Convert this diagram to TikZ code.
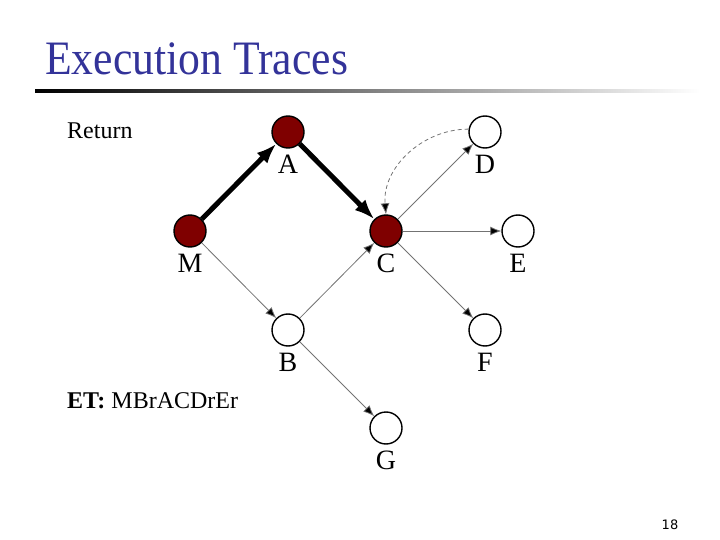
\documentclass[tikz,border=0pt]{standalone}
\usepackage{fontspec}
\setmainfont{Liberation Serif}
\setsansfont{DejaVu Sans}
\usetikzlibrary{arrows.meta}
\definecolor{titleblue}{HTML}{333399}
\definecolor{visited}{HTML}{7F0000}

\begin{document}
\begin{tikzpicture}[x=1pt, y=-1pt,
    state/.style={circle, draw, line width=1.4pt, minimum size=32pt, inner sep=0pt,
                  label={[font=\fontsize{28}{30}\selectfont, inner sep=0pt, label distance=6pt]below:#1}},
    hot/.style={state=#1, fill=visited},
    cold/.style={state=#1, fill=white},
    trace/.style={-{Latex[length=20pt, width=15pt]}, line width=5pt},
    edge/.style={-{Latex[length=11pt, width=9pt, fill=black]}, draw=black!55, line width=0.8pt},
    back/.style={edge, dashed, dash pattern=on 4pt off 3pt}]
    \useasboundingbox (0,0) rectangle (720,540);

    % heading
    \node[anchor=base west, inner sep=0pt, text=titleblue,
          font=\fontsize{48}{52}\selectfont] (title) at (45,75) {\scalebox{0.91}[1]{Execution Traces}};
    \shade[left color=black, right color=white] (35,89.5) rectangle (700,92.5);

    \node[anchor=base west, inner sep=0pt, font=\fontsize{24}{26}\selectfont] (ret) at (67,139) {Return};
    \node[anchor=base west, inner sep=0pt, font=\fontsize{24}{26}\selectfont] (et) at (67,408) {\textbf{ET:} MBrACDrEr};
    \node[anchor=base, inner sep=0pt, font=\sffamily\fontsize{13}{14}\selectfont] (page) at (670,529) {18};

    % call graph
    \node[hot=M] (M) at (190,231) {};
    \node[hot=A] (A) at (288,132) {};
    \node[hot=C] (C) at (386,231) {};
    \node[cold=D] (D) at (485,132) {};
    \node[cold=E] (E) at (518,231) {};
    \node[cold=B] (B) at (288,330) {};
    \node[cold=F] (F) at (485,330) {};
    \node[cold=G] (G) at (386,428) {};

    \draw[trace] (M) -- (A);
    \draw[trace] (A) -- (C);
    \draw[edge] (M) -- (B);
    \draw[edge] (B) -- (C);
    \draw[edge] (B) -- (G);
    \draw[edge] (C) -- (D);
    \draw[edge] (C) -- (E);
    \draw[edge] (C) -- (F);
    \draw[back] (D.170) to[out=180, in=95] (C.north);
\end{tikzpicture}
\end{document}
